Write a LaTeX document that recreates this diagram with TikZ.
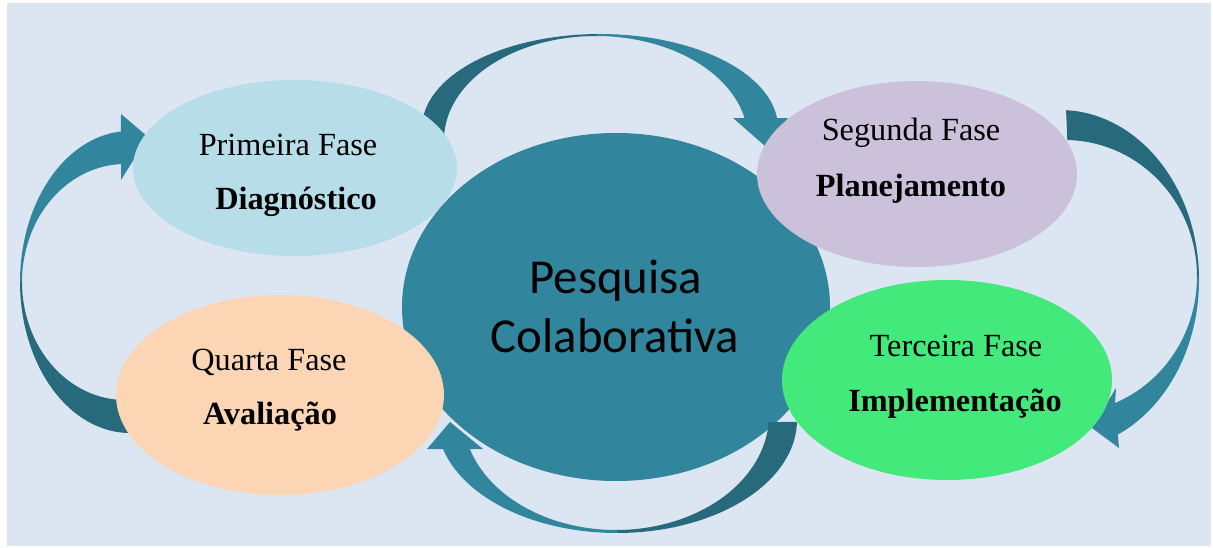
\documentclass[tikz,border=0pt]{standalone}
\usepackage{fontspec}
\setmainfont{Liberation Serif}
\newfontfamily\calib{Carlito}
\usetikzlibrary{shapes.geometric}
\definecolor{bgc}{HTML}{DCE6F2}
\definecolor{teal}{HTML}{31859C}
\definecolor{darkteal}{HTML}{276A7C}
\definecolor{cprim}{HTML}{B7DEE8}
\definecolor{cseg}{HTML}{CCC1DA}
\definecolor{cter}{HTML}{43E97A}
\definecolor{cqua}{HTML}{FCD5B5}
\begin{document}
\begin{tikzpicture}[x=1pt,y=-1pt,
  ell/.style={ellipse, inner sep=0pt, draw=none},
  lbl/.style={anchor=base, inner sep=0pt, font=\fontsize{32.3}{38}\selectfont},
  blbl/.style={lbl, font=\fontsize{32.3}{38}\selectfont\bfseries},
  ctr/.style={anchor=base, inner sep=0pt, font=\calib\fontsize{48.8}{58}\selectfont},
  dk/.style={fill=darkteal},
  lt/.style={fill=teal},
  smp/.style={samples=50}]
\useasboundingbox (0,0) rectangle (1213,548);
\fill[white] (0,0) rectangle (1213,548);
\fill[bgc] (7,3) rectangle (1211,546);

% central ellipse
\node[ell, fill=teal, minimum width=428pt, minimum height=348pt] (centre) at (616,307) {};

% top arrow
\fill[dk] plot[smp, domain=186.1:270] ({600+178*cos(\x)},{128+94*sin(\x)})
  -- plot[smp, domain=270:177.2] ({596+152*cos(\x)},{140+104*sin(\x)}) -- cycle;
\fill[lt] plot[smp, domain=270:353.9] ({600+178*cos(\x)},{128+94*sin(\x)})
  -- (788,118) -- (765,146) -- (733,118)
  -- plot[smp, domain=347.8:270] ({596+152*cos(\x)},{140+104*sin(\x)}) -- cycle;

% right arrow
\fill[dk] plot[smp, domain=-87.5:0] ({1060+139*cos(\x)},{280+170*sin(\x)})
  -- plot[smp, domain=0:-89] ({1065+132*cos(\x)},{276.6+136.6*sin(\x)}) -- cycle;
\fill[lt] plot[smp, domain=0:65.4] ({1060+139*cos(\x)},{280+170*sin(\x)})
  -- (1119,448) -- (1092,428) -- (1116,388)
  -- plot[smp, domain=67.7:0] ({1065+132*cos(\x)},{276.6+136.6*sin(\x)}) -- cycle;

% bottom arrow
\fill[dk] plot[smp, domain=1:90] ({617+180*cos(\x)},{420+113*sin(\x)})
  -- plot[smp, domain=90:3.5] ({616+153*cos(\x)},{415+115*sin(\x)}) -- cycle;
\fill[lt] plot[smp, domain=90:165.1] ({617+180*cos(\x)},{420+113*sin(\x)})
  -- (427,449) -- (450,422) -- (483,449)
  -- plot[smp, domain=162.8:90] ({616+153*cos(\x)},{415+115*sin(\x)}) -- cycle;

% left arrow
\fill[dk] plot[smp, domain=180:91] ({130+110*cos(\x)},{282+151*sin(\x)})
  -- plot[smp, domain=94.5:180] ({125+103*cos(\x)},{282+118*sin(\x)}) -- cycle;
\fill[lt] plot[smp, domain=180:265.3] ({130+110*cos(\x)},{282+151*sin(\x)})
  -- (121,114) -- (148,137) -- (121,180)
  -- plot[smp, domain=267.8:180] ({125+103*cos(\x)},{282+118*sin(\x)}) -- cycle;

% phase ellipses
\node[ell, fill=cprim, minimum width=324pt, minimum height=176pt] (prim) at (295,168) {};
\node[ell, fill=cseg, minimum width=320pt, minimum height=186pt] (seg) at (917,174) {};
\node[ell, fill=cter, minimum width=330pt, minimum height=200pt] (ter) at (947,380) {};
\node[ell, fill=cqua, minimum width=328pt, minimum height=200pt] (qua) at (280,395) {};

% texts
\node[lbl] (primA) at (288,156) {Primeira Fase};
\node[blbl] (primB) at (296,210) {Diagnóstico};
\node[lbl] (segA) at (911,141) {Segunda Fase};
\node[blbl] (segB) at (911,197) {Planejamento};
\node[lbl] (terA) at (956,356) {Terceira Fase};
\node[blbl] (terB) at (955,411) {Implementação};
\node[lbl] (quaA) at (269,370) {Quarta Fase};
\node[blbl] (quaB) at (270,424) {Avaliação};
\node[ctr] (cA) at (616,294) {Pesquisa};
\node[ctr] (cB) at (615,352) {Colaborativa};
\end{tikzpicture}
\end{document}
